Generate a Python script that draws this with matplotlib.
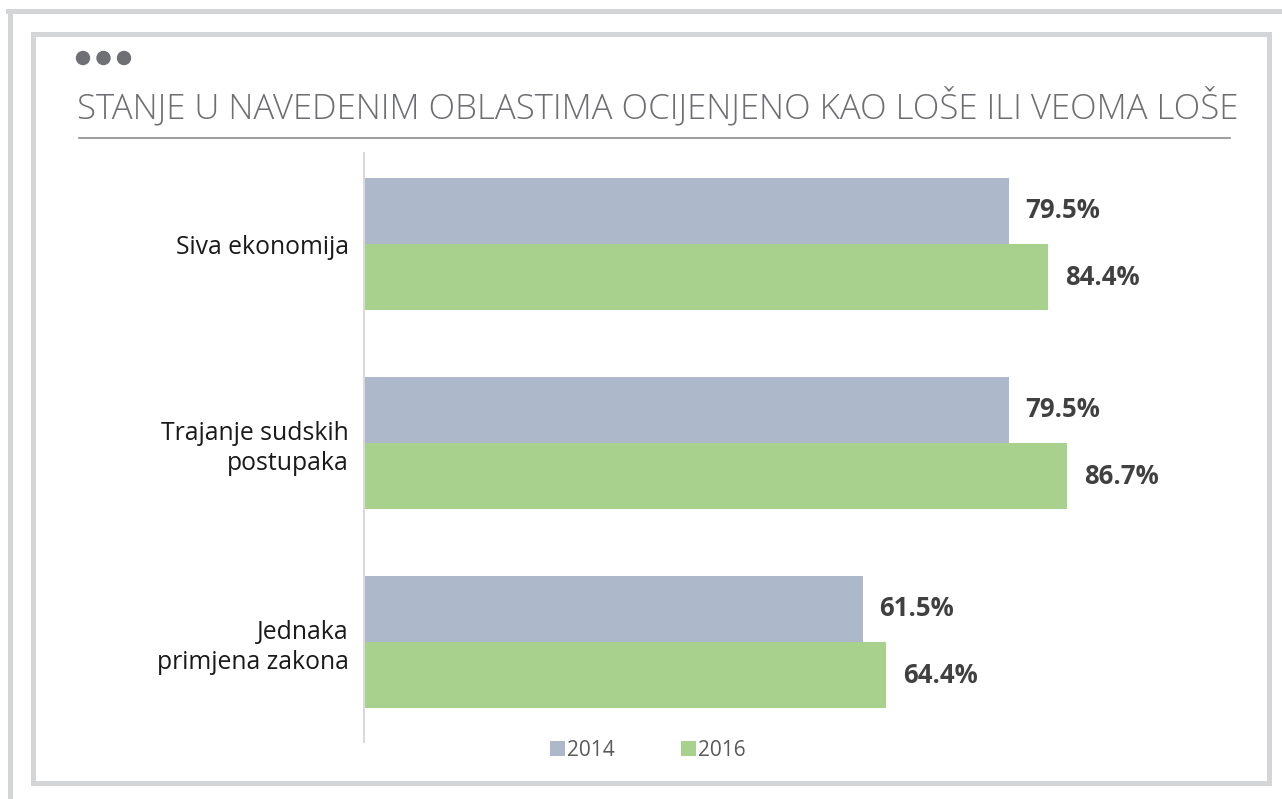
import matplotlib
matplotlib.use("Agg")
import matplotlib.pyplot as plt
from matplotlib.patches import Rectangle, Ellipse
from matplotlib.lines import Line2D
import numpy as np

categories = ["Siva ekonomija", "Trajanje sudskih\npostupaka", "Jednaka\nprimjena zakona"]
series_names = ["2014", "2016"]
values_2014 = [79.5, 79.5, 61.5]
values_2016 = [84.4, 86.7, 64.4]
colors = ["#ADB9CA", "#A9D18E"]
title = "STANJE U NAVEDENIM OBLASTIMA OCIJENJENO KAO LOŠE ILI VEOMA LOŠE"

plt.rcParams['font.family'] = ['Open Sans', 'DejaVu Sans']

W, H = 1282, 799
fig = plt.figure(figsize=(W / 100, H / 100), dpi=100)


def fx(px):
    return px / W


def fy(py):
    return 1 - py / H


# frames
frame_col = "#D4D5D7"
fig.add_artist(Line2D([fx(9.5), fx(9.5)], [fy(11), 0], color=frame_col, lw=3.6))
fig.add_artist(Line2D([fx(8), 1], [fy(11), fy(11)], color=frame_col, lw=3.6))
fig.add_artist(Rectangle((fx(32.5), fy(782.5)), fx(1268.5 - 32.5), (782.5 - 33.5) / H,
                         fill=False, ec=frame_col, lw=3.6))

# dots and title
for cx in [83, 103.5, 124]:
    fig.add_artist(Ellipse((fx(cx), fy(58)), 13 / W, 13 / H, color="#6F7073",
                           transform=fig.transFigure))
fig.text(fx(77), fy(107), title, fontsize=25, fontweight="light", color="#6D6E71",
         va="center", ha="left")
fig.add_artist(Line2D([fx(79), fx(1230)], [fy(138), fy(138)], color="#8C8C8C", lw=1.2))

# chart
ax = fig.add_axes([fx(364), fy(741.5), fx(1175 - 364), (741.5 - 144.5) / H])
y = np.arange(len(categories))
h = 1 / 3
b1 = ax.barh(y - h / 2, values_2014, height=h, color=colors[0], label=series_names[0])
b2 = ax.barh(y + h / 2, values_2016, height=h, color=colors[1], label=series_names[1])
for bars, vals in [(b1, values_2014), (b2, values_2016)]:
    for bar, v in zip(bars, vals):
        ax.annotate(f"{v:.1f}%", (v, bar.get_y() + bar.get_height() / 2),
                    xytext=(12, 0), textcoords="offset points", va="center", ha="left",
                    fontsize=18.5, fontweight="bold", color="#404040")

ax.set_xlim(0, 100)
ax.set_ylim(2.5, -0.5)
ax.set_yticks(y)
ax.set_yticklabels(categories, fontsize=17.8, color="#1A1A1A", linespacing=1.25)
ax.tick_params(axis="y", length=0, pad=11)
ax.set_xticks([])
for s in ["top", "right", "bottom"]:
    ax.spines[s].set_visible(False)
ax.spines["left"].set_color("#D9D9D9")
ax.spines["left"].set_linewidth(1.5)
ax.spines["left"].set_bounds(-0.457, 2.5)

leg = fig.legend(handles=[b1, b2], loc="center", bbox_to_anchor=(fx(648), fy(750)),
                 ncol=2, frameon=False, fontsize=15, handlelength=0.7, handleheight=0.7,
                 handletextpad=0.1, columnspacing=3.2, labelcolor="#595959")

fig.savefig("out.png", dpi=100)
